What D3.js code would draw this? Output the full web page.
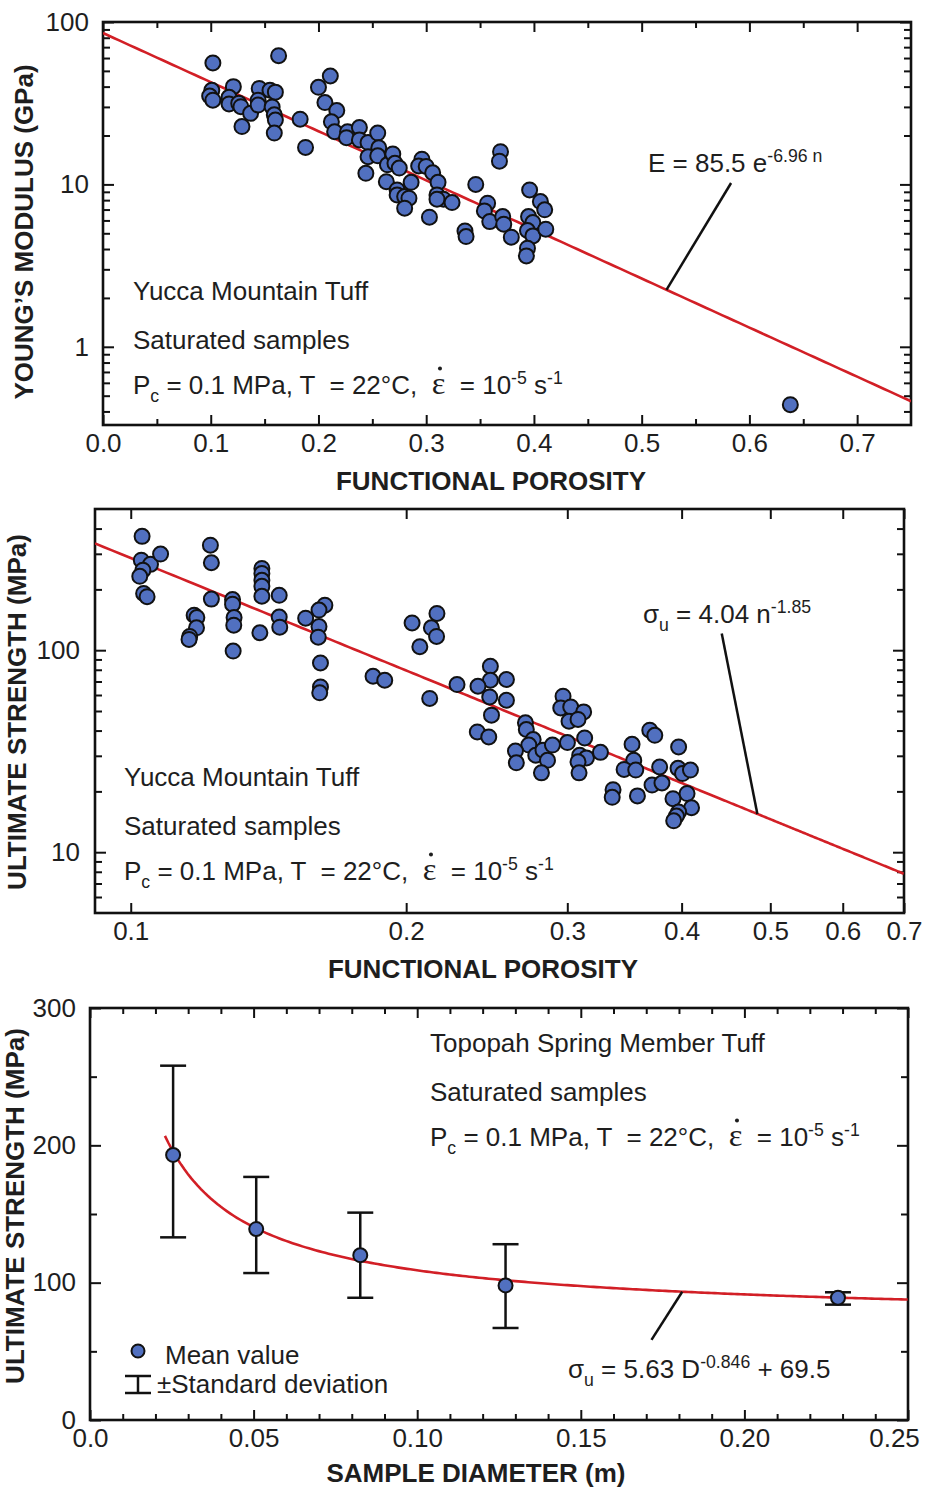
<!DOCTYPE html>
<html><head><meta charset="utf-8">
<script src="https://cdn.jsdelivr.net/npm/d3@7"></script>
<style>
body{margin:0;background:#fff}
svg text{font-family:"Liberation Sans",Arial,Helvetica,sans-serif;fill:#1e1e1e}
</style></head><body>
<script>
// ---------------- DATA ----------------
// Panel 1: Young's modulus vs functional porosity
const youngPorosity = [0.102,0.163,0.101,0.099,0.102,0.121,0.117,0.117,0.126,0.128,0.137,0.145,0.144,0.144,0.129,0.155,0.160,0.157,0.159,0.160,0.159,0.183,0.188,0.200,0.211,0.206,0.217,0.212,0.215,0.227,0.226,0.238,0.238,0.246,0.255,0.256,0.246,0.255,0.244,0.264,0.263,0.269,0.271,0.275,0.273,0.273,0.280,0.284,0.280,0.286,0.296,0.293,0.300,0.306,0.311,0.310,0.316,0.310,0.324,0.303,0.336,0.337,0.346,0.357,0.354,0.359,0.369,0.368,0.371,0.372,0.379,0.396,0.395,0.399,0.394,0.399,0.394,0.393,0.406,0.410,0.411,0.638];
const youngModulus = [56,62,38,35,33,40,34.4,31.3,31.6,30.1,27.4,39,33,30.8,22.7,38,37,30,26.8,24.9,20.7,25.2,16.9,39.6,46.5,31.9,28.5,24.3,21.1,21.1,19.4,22.4,18.8,18.1,20.7,16.8,14.8,15.0,11.7,13.2,10.4,15.4,13.5,12.6,9.25,8.62,8.41,8.23,7.14,10.3,14.3,13.0,12.9,11.8,10.3,8.62,8.11,8.11,7.73,6.28,5.17,4.77,10.0,7.66,6.87,5.90,15.9,13.9,6.34,5.69,4.73,9.25,6.34,5.82,5.20,4.82,4.05,3.63,7.84,6.97,5.30,0.44];
const youngFit = {a:85.5, b:-6.96};

// Panel 2: ultimate strength vs functional porosity
const strengthPorosity = [0.1029,0.1027,0.1051,0.1078,0.1031,0.1023,0.1033,0.1042,0.1222,0.1225,0.1225,0.1173,0.1181,0.1180,0.1160,0.1158,0.1292,0.1292,0.1297,0.1296,0.1294,0.1391,0.1391,0.1391,0.1391,0.1391,0.1453,0.1453,0.1455,0.1384,0.1553,0.1630,0.1606,0.1606,0.1603,0.1612,0.1612,0.1609,0.1840,0.1895,0.2161,0.2030,0.2131,0.2159,0.2070,0.2122,0.2273,0.2472,0.2472,0.2574,0.2396,0.2468,0.2574,0.2479,0.2392,0.2462,0.2700,0.2706,0.2753,0.2723,0.2633,0.2639,0.2771,0.2822,0.2854,0.2890,0.2811,0.2968,0.2951,0.3026,0.3126,0.3013,0.3082,0.3001,0.3134,0.3095,0.3148,0.3082,0.3090,0.3261,0.3531,0.3546,0.3461,0.3564,0.3692,0.3739,0.3366,0.3359,0.3579,0.3785,0.3713,0.3807,0.3970,0.3964,0.4009,0.4090,0.3914,0.4055,0.4101,0.3970,0.3948,0.3921];
const strengthValues = [366,279,266,299,249,232,191,184,331,271,179,149,145,129,117,113,178,169,145,133,99,254,240,222,207,185,187,146,130,122,144,167,158,131,116,86.5,65.8,61.5,74.3,71.0,152,136.5,129,117,104,57.7,67.6,83.3,71.0,71.6,66.3,58.7,56.5,47.7,39.4,37.2,43.7,40.5,36.1,33.9,31.7,27.7,30.2,32.0,28.5,33.9,24.7,59.2,51.8,52.4,49.5,44.5,45.4,34.9,36.8,30.2,29.3,28.0,24.7,31.2,34.2,28.5,25.7,25.5,40.2,37.9,20.4,18.7,19.0,26.4,21.5,22.0,33.2,26.0,24.5,25.5,18.4,19.5,16.6,15.8,15.1,14.3];
const strengthFit = {a:4.04, b:-1.85};

// Panel 3: ultimate strength vs sample diameter
const sampleDiameter = [0.0254,0.0508,0.0826,0.127,0.2286];
const meanStrength   = [193,139,120,98,89];
const lowerStrength  = [133,107,89,67,84];
const upperStrength  = [258,177,151,128,93];
const sizeFit = {a:5.63, b:-0.846, c:69.5};

// Tick values / labels
const p1XTicks = [0,0.1,0.2,0.3,0.4,0.5,0.6,0.7];
const p1XLabels = ["0.0","0.1","0.2","0.3","0.4","0.5","0.6","0.7"];
const p1XMinor = [0.05,0.15,0.25,0.35,0.45,0.55,0.65];
const p1YTicks = [1,10,100];
const p1YLabels = ["1","10","100"];
const p2XTicks = [0.1,0.2,0.3,0.4,0.5,0.6,0.7];
const p2XLabels = ["0.1","0.2","0.3","0.4","0.5","0.6","0.7"];
const p2YTicks = [10,100];
const p2YLabels = ["10","100"];
const p3XTicks = [0,0.05,0.10,0.15,0.20,0.25];
const p3XLabels = ["0.0","0.05","0.10","0.15","0.20","0.25"];
const p3YTicks = [0,100,200,300];
const p3YLabels = ["0","100","200","300"];

// ---------------- DRAWING ----------------
const FONT = '"Liberation Sans", Arial, Helvetica, sans-serif';
const BLUE = "#5170c0", RED = "#d21f26", INK = "#111";
const svg = d3.select("body").append("svg").attr("width",926).attr("height",1490);
svg.append("rect").attr("width",926).attr("height",1490).attr("fill","#fff");

function logMinor(lo, hi){
  const out=[];
  for(let e=Math.floor(Math.log10(lo)); e<=Math.ceil(Math.log10(hi)); e++)
    for(let m=2;m<=9;m++){const v=m*Math.pow(10,e); if(v>lo && v<hi) out.push(v);}
  return out;
}

function axes(g, x, y, c){
  const [xl,xr]=x.range(), [yb,yt]=y.range();
  const style = s => {
    s.select(".domain").remove();
    s.selectAll("line").attr("stroke",INK).attr("stroke-width",2);
    s.selectAll("text").attr("font-size",26).attr("fill","#222").style("font-family",FONT);
  };
  const lab = (vals, labels) => d => labels[vals.findIndex(v=>Math.abs(v-d)<1e-9)];
  const bx = g.append("g").attr("transform",`translate(0,${yb})`)
    .call(d3.axisBottom(x).tickValues(c.xMajor).tickSize(-c.xMajLen).tickPadding(c.xPad).tickFormat(lab(c.xMajor,c.xLabels))).call(style);
  if(c.lastDx) bx.selectAll(".tick:last-of-type text").attr("dx", c.lastDx);
  g.append("g").attr("transform",`translate(0,${yt})`)
    .call(d3.axisTop(x).tickValues(c.xMajor).tickSize(-c.xMajLen).tickFormat("")).call(style);
  if(c.xMinor){
    g.append("g").attr("transform",`translate(0,${yb})`).call(d3.axisBottom(x).tickValues(c.xMinor).tickSize(-c.xMinLen).tickFormat("")).call(style);
    g.append("g").attr("transform",`translate(0,${yt})`).call(d3.axisTop(x).tickValues(c.xMinor).tickSize(-c.xMinLen).tickFormat("")).call(style);
  }
  g.append("g").attr("transform",`translate(${xl},0)`)
    .call(d3.axisLeft(y).tickValues(c.yMajor).tickSize(-c.yMajLen).tickPadding(c.yPad).tickFormat(lab(c.yMajor,c.yLabels))).call(style);
  g.append("g").attr("transform",`translate(${xr},0)`)
    .call(d3.axisRight(y).tickValues(c.yMajor).tickSize(-c.yMajLen).tickFormat("")).call(style);
  if(c.yMinor){
    g.append("g").attr("transform",`translate(${xl},0)`).call(d3.axisLeft(y).tickValues(c.yMinor).tickSize(-c.yMinLen).tickFormat("")).call(style);
    g.append("g").attr("transform",`translate(${xr},0)`).call(d3.axisRight(y).tickValues(c.yMinor).tickSize(-c.yMinLen).tickFormat("")).call(style);
  }
  g.append("rect").attr("x",xl).attr("y",yt).attr("width",xr-xl).attr("height",yb-yt)
    .attr("fill","none").attr("stroke",INK).attr("stroke-width",2.6);
}

function clip(id, x, y){
  const [xl,xr]=x.range(), [yb,yt]=y.range();
  svg.append("clipPath").attr("id",id).append("rect").attr("x",xl).attr("y",yt).attr("width",xr-xl).attr("height",yb-yt);
  return `url(#${id})`;
}

// rich text: parts = [{t, sup|sub|eps}]
function rich(g, x, y, parts, fs){
  const t = g.append("text").attr("x",x).attr("y",y).attr("font-size",fs).style("white-space","pre");
  let shift=0, epsIdx=-1, count=0;
  parts.forEach(p=>{
    let target = p.sup ? -fs*0.4 : p.sub ? fs*0.3 : 0;
    const sp = t.append("tspan").attr("dy", target-shift).text(p.t);
    if(p.sup||p.sub) sp.attr("font-size", fs*0.68);
    if(p.eps){ sp.attr("font-size", fs*1.25).style("font-family",'"Liberation Serif","DejaVu Serif",serif'); epsIdx = count; }
    shift = target; count += p.t.length;
  });
  if(epsIdx>=0){
    const node=t.node();
    const a=node.getStartPositionOfChar(epsIdx), b=node.getEndPositionOfChar(epsIdx);
    g.append("circle").attr("cx",(a.x+b.x)/2+1.5).attr("cy",a.y-fs*0.98).attr("r",2).attr("fill","#1e1e1e");
  }
  return t;
}

function condLines(g, x0, y0, title, fs){
  g.append("text").attr("x",x0).attr("y",y0).attr("font-size",fs).text(title);
  g.append("text").attr("x",x0).attr("y",y0+49).attr("font-size",fs).text("Saturated samples");
  rich(g, x0, y0+94, [{t:"P"},{t:"c",sub:true},{t:" = 0.1 MPa, T  = 22°C,  "},{t:"ε",eps:true},{t:"  = 10"},{t:"-5",sup:true},{t:" s"},{t:"-1",sup:true}], fs);
}

function titles(g, xt, xx, xy, yt, yx, yy){
  g.append("text").attr("x",xx).attr("y",xy).attr("text-anchor","middle").attr("font-size",26).attr("font-weight","bold").text(xt);
  g.append("text").attr("transform",`translate(${yx},${yy}) rotate(-90)`).attr("text-anchor","middle").attr("font-size",26).attr("font-weight","bold").text(yt);
}

function dots(g, xs, ys, x, y, r){
  g.selectAll(null).data(xs.map((d,i)=>[d,ys[i]])).join("circle")
    .attr("cx",d=>x(d[0])).attr("cy",d=>y(d[1])).attr("r",r)
    .attr("fill",BLUE).attr("stroke",INK).attr("stroke-width",2);
}

// ---------- Panel 1 ----------
{
  const g = svg.append("g");
  const x = d3.scaleLinear().domain([0,0.75]).range([103,911]);
  const y = d3.scaleLog().domain([0.33,100]).range([425,22]);
  axes(g,x,y,{xMajor:p1XTicks,xLabels:p1XLabels,xMinor:p1XMinor,xMajLen:10,xMinLen:6,xPad:9,
              yMajor:p1YTicks,yLabels:p1YLabels,yMinor:logMinor(0.33,100),yMajLen:11,yMinLen:7,yPad:14});
  const cp = clip("c1",x,y);
  const fit = d3.range(0,0.7501,0.005).map(n=>[n, youngFit.a*Math.exp(youngFit.b*n)]);
  g.append("path").attr("clip-path",cp).attr("d",d3.line().x(d=>x(d[0])).y(d=>y(d[1]))(fit))
    .attr("fill","none").attr("stroke",RED).attr("stroke-width",2.6);
  dots(g, youngPorosity, youngModulus, x, y, 7.5);
  const n0=0.523;
  g.append("line").attr("x1",x(n0)).attr("y1",y(youngFit.a*Math.exp(youngFit.b*n0))).attr("x2",x(0.583)).attr("y2",y(10.2))
    .attr("stroke",INK).attr("stroke-width",2.5);
  rich(g, 648, 172, [{t:"E = 85.5 e"},{t:"-6.96 n",sup:true}], 26);
  condLines(g, 133, 300, "Yucca Mountain Tuff", 26);
  titles(g, "FUNCTIONAL POROSITY", 491, 490, "YOUNG’S MODULUS (GPa)", 33, 232);
}

// ---------- Panel 2 ----------
{
  const g = svg.append("g");
  const x = d3.scaleLog().domain([0.0914,0.7]).range([95,904]);
  const y = d3.scaleLog().domain([5,500]).range([913,509]);
  axes(g,x,y,{xMajor:p2XTicks,xLabels:p2XLabels,xMajLen:10,xPad:9,
              yMajor:p2YTicks,yLabels:p2YLabels,yMinor:logMinor(5,500),yMajLen:11,yMinLen:7,yPad:15});
  const cp = clip("c2",x,y);
  const fit = d3.range(0.0914,0.7001,0.002).map(n=>[n, strengthFit.a*Math.pow(n,strengthFit.b)]);
  g.append("path").attr("clip-path",cp).attr("d",d3.line().x(d=>x(d[0])).y(d=>y(d[1]))(fit))
    .attr("fill","none").attr("stroke",RED).attr("stroke-width",2.6);
  dots(g, strengthPorosity, strengthValues, x, y, 7.5);
  const n0=0.484;
  g.append("line").attr("x1",x(n0)).attr("y1",y(strengthFit.a*Math.pow(n0,strengthFit.b))).attr("x2",x(0.4425)).attr("y2",y(121))
    .attr("stroke",INK).attr("stroke-width",2.5);
  rich(g, 643, 623, [{t:"σ"},{t:"u",sub:true},{t:" = 4.04 n"},{t:"-1.85",sup:true}], 26);
  condLines(g, 124, 786, "Yucca Mountain Tuff", 26);
  titles(g, "FUNCTIONAL POROSITY", 483, 978, "ULTIMATE STRENGTH (MPa)", 26, 712);
}

// ---------- Panel 3 ----------
{
  const g = svg.append("g");
  const x = d3.scaleLinear().domain([0,0.25]).range([90,908]);
  const y = d3.scaleLinear().domain([0,300]).range([1420,1008]);
  const xMinor = d3.range(1,25).map(i=>i/100).filter(v=>Math.abs(v*20-Math.round(v*20))>1e-6);
  axes(g,x,y,{xMajor:p3XTicks,xLabels:p3XLabels,xMinor:xMinor,xMajLen:10,xMinLen:6,xPad:9,lastDx:-14,
              yMajor:p3YTicks,yLabels:p3YLabels,yMinor:[50,150,250],yMajLen:11,yMinLen:7,yPad:14});
  const cp = clip("c3",x,y);
  const fit = d3.range(0.0229,0.2501,0.001).map(D=>[D, sizeFit.a*Math.pow(D,sizeFit.b)+sizeFit.c]);
  g.append("path").attr("clip-path",cp).attr("d",d3.line().x(d=>x(d[0])).y(d=>y(d[1]))(fit))
    .attr("fill","none").attr("stroke",RED).attr("stroke-width",2.6);
  const eb = g.append("g").attr("stroke",INK).attr("stroke-width",2.5);
  sampleDiameter.forEach((d,i)=>{
    eb.append("line").attr("x1",x(d)).attr("x2",x(d)).attr("y1",y(lowerStrength[i])).attr("y2",y(upperStrength[i]));
    [lowerStrength[i],upperStrength[i]].forEach(v=>eb.append("line").attr("x1",x(d)-13).attr("x2",x(d)+13).attr("y1",y(v)).attr("y2",y(v)));
  });
  dots(g, sampleDiameter, meanStrength, x, y, 7);
  const D0=0.181;
  g.append("line").attr("x1",x(D0)).attr("y1",y(sizeFit.a*Math.pow(D0,sizeFit.b)+sizeFit.c)).attr("x2",x(0.1716)).attr("y2",y(58.3))
    .attr("stroke",INK).attr("stroke-width",2.5);
  rich(g, 568, 1378, [{t:"σ"},{t:"u",sub:true},{t:" = 5.63 D"},{t:"-0.846",sup:true},{t:" + 69.5"}], 26);
  condLines(g, 430, 1052, "Topopah Spring Member Tuff", 26);
  // legend
  g.append("circle").attr("cx",138).attr("cy",1351).attr("r",6.5).attr("fill",BLUE).attr("stroke",INK).attr("stroke-width",2);
  g.append("text").attr("x",165).attr("y",1364).attr("font-size",26).text("Mean value");
  const lg = g.append("g").attr("stroke",INK).attr("stroke-width",2.5);
  lg.append("line").attr("x1",138).attr("x2",138).attr("y1",1376).attr("y2",1393);
  lg.append("line").attr("x1",125).attr("x2",151).attr("y1",1376).attr("y2",1376);
  lg.append("line").attr("x1",125).attr("x2",151).attr("y1",1393).attr("y2",1393);
  g.append("text").attr("x",157).attr("y",1393).attr("font-size",26).text("±Standard deviation");
  titles(g, "SAMPLE DIAMETER (m)", 476, 1482, "ULTIMATE STRENGTH (MPa)", 24, 1206);
}
</script>
</body></html>
